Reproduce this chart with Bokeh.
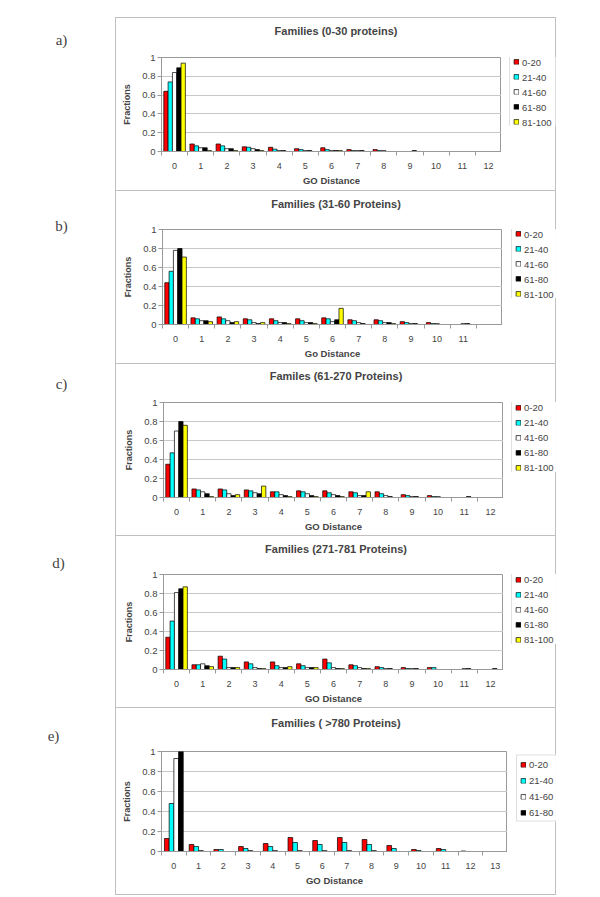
from bokeh.plotting import figure
from bokeh.layouts import column, row
from bokeh.models import (ColumnDataSource, Range1d, FixedTicker, Legend, LegendItem,
                          Label, NumeralTickFormatter, Spacer)
from bokeh.transform import dodge
from bokeh.embed import file_html
from bokeh.resources import INLINE

# ---------------- data ----------------
SERIES = ["0-20", "21-40", "41-60", "61-80", "81-100"]
COLORS = ["#ff0000", "#00ffff", "#ffffff", "#000000", "#ffff00"]
Y_TICKS = [0, 0.2, 0.4, 0.6, 0.8, 1]

a_dist = [0, 1, 2, 3, 4, 5, 6, 7, 8, 9, 10, 11, 12]
a_0_20   = [0.64, 0.08, 0.08, 0.05, 0.045, 0.03, 0.04, 0.02, 0.02, 0, 0, 0, 0]
a_21_40  = [0.74, 0.06, 0.06, 0.045, 0.025, 0.02, 0.02, 0.01, 0.01, 0, 0, 0, 0]
a_41_60  = [0.84, 0.04, 0.03, 0.03, 0.01, 0.01, 0.01, 0.01, 0.01, 0, 0, 0, 0]
a_61_80  = [0.89, 0.04, 0.03, 0.02, 0.01, 0.01, 0.01, 0.01, 0, 0.01, 0, 0, 0]
a_81_100 = [0.94, 0.01, 0.01, 0.01, 0, 0, 0.01, 0, 0, 0, 0, 0, 0]

b_dist = [0, 1, 2, 3, 4, 5, 6, 7, 8, 9, 10, 11]
b_0_20   = [0.44, 0.07, 0.08, 0.06, 0.06, 0.06, 0.07, 0.05, 0.05, 0.03, 0.02, 0]
b_21_40  = [0.56, 0.06, 0.06, 0.05, 0.04, 0.04, 0.06, 0.04, 0.04, 0.02, 0.01, 0]
b_41_60  = [0.78, 0.04, 0.04, 0.02, 0.02, 0.02, 0.03, 0.02, 0.02, 0.01, 0.01, 0.01]
b_61_80  = [0.80, 0.04, 0.02, 0.01, 0.02, 0.02, 0.05, 0.01, 0.02, 0.01, 0, 0.01]
b_81_100 = [0.71, 0.03, 0.03, 0.02, 0.01, 0.01, 0.17, 0, 0.01, 0, 0, 0]

c_dist = [0, 1, 2, 3, 4, 5, 6, 7, 8, 9, 10, 11, 12]
c_0_20   = [0.35, 0.09, 0.09, 0.08, 0.06, 0.07, 0.07, 0.06, 0.06, 0.03, 0.02, 0, 0]
c_21_40  = [0.47, 0.08, 0.08, 0.07, 0.06, 0.06, 0.05, 0.05, 0.04, 0.02, 0.01, 0, 0]
c_41_60  = [0.70, 0.06, 0.04, 0.05, 0.03, 0.04, 0.03, 0.02, 0.02, 0.01, 0.01, 0, 0]
c_61_80  = [0.80, 0.04, 0.02, 0.04, 0.02, 0.02, 0.02, 0.02, 0.01, 0.01, 0, 0.01, 0]
c_81_100 = [0.76, 0.01, 0.03, 0.12, 0.01, 0.01, 0.01, 0.06, 0, 0, 0, 0, 0]

d_dist = [0, 1, 2, 3, 4, 5, 6, 7, 8, 9, 10, 11, 12]
d_0_20   = [0.34, 0.05, 0.14, 0.08, 0.08, 0.06, 0.11, 0.05, 0.03, 0.02, 0.02, 0, 0]
d_21_40  = [0.51, 0.05, 0.11, 0.06, 0.04, 0.04, 0.07, 0.04, 0.02, 0.01, 0.02, 0, 0]
d_41_60  = [0.81, 0.06, 0.02, 0.02, 0.02, 0.02, 0.02, 0.02, 0.01, 0.01, 0, 0.01, 0]
d_61_80  = [0.85, 0.04, 0.02, 0.01, 0.02, 0.02, 0.01, 0.01, 0.01, 0.01, 0, 0.01, 0.01]
d_81_100 = [0.87, 0.03, 0.02, 0.01, 0.03, 0.02, 0.01, 0.01, 0, 0, 0, 0, 0]

e_dist = [0, 1, 2, 3, 4, 5, 6, 7, 8, 9, 10, 11, 12, 13]
e_0_20  = [0.13, 0.07, 0.02, 0.05, 0.08, 0.14, 0.11, 0.14, 0.12, 0.06, 0.02, 0.03, 0.005, 0]
e_21_40 = [0.48, 0.05, 0.02, 0.03, 0.05, 0.09, 0.07, 0.09, 0.07, 0.03, 0.01, 0.02, 0, 0]
e_41_60 = [0.93, 0.01, 0, 0.01, 0.01, 0.01, 0.01, 0.01, 0.01, 0, 0, 0, 0, 0]
e_61_80 = [1.00, 0, 0, 0, 0, 0, 0, 0, 0, 0, 0, 0, 0, 0]

PANELS = [
    dict(tag="a)", title="Families (0-30 proteins)", xlabel="GO Distance", dist=a_dist, slots=13,
         values=[a_0_20, a_21_40, a_41_60, a_61_80, a_81_100]),
    dict(tag="b)", title="Families (31-60 Proteins)", xlabel="Go Distance", dist=b_dist, slots=13,
         values=[b_0_20, b_21_40, b_41_60, b_61_80, b_81_100]),
    dict(tag="c)", title="Familes (61-270 Proteins)", xlabel="GO Distance", dist=c_dist, slots=13,
         values=[c_0_20, c_21_40, c_41_60, c_61_80, c_81_100]),
    dict(tag="d)", title="Families (271-781 Proteins)", xlabel="GO Distance", dist=d_dist, slots=13,
         values=[d_0_20, d_21_40, d_41_60, d_61_80, d_81_100]),
    dict(tag="e)", title="Families ( >780 Proteins)", xlabel="GO Distance", dist=e_dist, slots=14,
         values=[e_0_20, e_21_40, e_41_60, e_61_80]),
]

# ---------------- layout / style ----------------
FONT = "Liberation Sans"
BOX = "#c0c0c0"
GRAY = "#999999"
PANEL_W = 441
TAG_W = 115
TITLE_H = 26
# h: panel height; ty: title centre from panel top; ft/fb: frame top/bottom gaps;
# fl: frame left gap; lw: legend column width; lx: legend left offset; tx/tyy: tag position
LAYOUT = [
    dict(h=173, ty=13, ft=40, fb=39, fl=46, lw=55, lx=8, tx=61, tyy=22),
    dict(h=173, ty=13, ft=39, fb=39, fl=47, lw=54, lx=9, tx=61, tyy=35),
    dict(h=172, ty=12, ft=39, fb=38, fl=48, lw=53, lx=8, tx=61, tyy=20),
    dict(h=172, ty=13, ft=39, fb=38, fl=48, lw=53, lx=8, tx=58, tyy=27),
    dict(h=188, ty=15, ft=44, fb=44, fl=46, lw=49, lx=9, tx=53, tyy=28),
]


def bare_fig(w, h):
    f = figure(width=w, height=h, x_range=Range1d(0, w), y_range=Range1d(0, h),
               x_axis_location=None, y_axis_location=None, toolbar_location=None,
               output_backend="svg", min_border=0)
    try:
        f.title = None
    except Exception:
        f.title.visible = False
    f.grid.visible = False
    f.outline_line_color = None
    f.border_fill_color = None
    f.background_fill_color = None
    return f


def text_fig(w, h, text, x, y_top, font, size, style="normal"):
    f = bare_fig(w, h)
    f.add_layout(Label(x=x, y=h - y_top, text=text, text_font=font, text_font_size=size,
                       text_font_style=style, text_align="center", text_baseline="middle"))
    return f


def make_panel(spec, lay, last):
    n = spec["slots"]
    k = len(spec["values"])
    bar_w = 0.165 if k == 5 else 0.19
    plot_h = lay["h"] - TITLE_H
    plot_w = PANEL_W - lay["lw"]
    top_gap = lay["ft"] - TITLE_H
    frame_h = plot_h - top_gap - lay["fb"]
    p = figure(width=plot_w, height=plot_h, x_range=Range1d(-0.5, n - 0.5), y_range=Range1d(0, 1),
               toolbar_location=None, output_backend="svg",
               min_border_top=top_gap, min_border_bottom=lay["fb"],
               min_border_left=lay["fl"], min_border_right=0)
    try:
        p.title = None
    except Exception:
        p.title.visible = False

    lg = bare_fig(lay["lw"], int(round(2 * (top_gap + frame_h / 2))))
    items = []
    for i, (name, vals, col) in enumerate(zip(SERIES, spec["values"], COLORS)):
        off = (i - (k - 1) / 2) * bar_w
        src = ColumnDataSource(dict(dist=spec["dist"], top=vals,
                                    la=[1 if v > 0 else 0 for v in vals]))
        p.vbar(x=dodge("dist", off, range=p.x_range), top="top", width=bar_w, source=src,
               fill_color=col, line_color="black", line_width=0.7, line_alpha="la")
        # hidden twin in the legend column, only used to draw the legend swatch
        twin = lg.vbar(x="dist", top="top", width=bar_w, source=src, visible=False,
                       fill_color=col, line_color="black", line_width=0.7)
        items.append(LegendItem(label=name, renderers=[twin]))
    leg = Legend(items=items, location="left", margin=lay["lx"], padding=3,
                 spacing=4 if k == 5 else 5,
                 glyph_width=6, glyph_height=6, label_height=10, label_standoff=3,
                 label_text_font=FONT, label_text_font_size="9.5px",
                 border_line_color=BOX, border_line_width=1, background_fill_color="white")
    lg.add_layout(leg)

    p.outline_line_color = GRAY
    p.background_fill_color = "white"
    p.border_fill_color = None
    p.xgrid.visible = False
    p.ygrid.grid_line_color = "#c8c8c8"
    p.ygrid.ticker = FixedTicker(ticks=Y_TICKS)

    ya = p.yaxis[0]
    ya.ticker = FixedTicker(ticks=Y_TICKS)
    ya.formatter = NumeralTickFormatter(format="0.[0]")
    ya.axis_line_color = GRAY
    ya.major_tick_line_color = GRAY
    ya.major_tick_out = 4
    ya.major_tick_in = 0
    ya.minor_tick_out = 0
    ya.minor_tick_in = 0
    ya.major_label_standoff = 2
    ya.major_label_text_font = FONT
    ya.major_label_text_font_size = "9.5px"
    ya.axis_label = "Fractions"
    ya.axis_label_text_font = FONT
    ya.axis_label_text_font_size = "9px"
    ya.axis_label_text_font_style = "bold"
    ya.axis_label_standoff = 7

    xa = p.xaxis[0]
    xa.ticker = FixedTicker(ticks=spec["dist"], minor_ticks=[j - 0.5 for j in range(n + 1)])
    xa.axis_line_color = GRAY
    xa.major_tick_out = 0
    xa.major_tick_in = 0
    xa.minor_tick_out = 4
    xa.minor_tick_in = 0
    xa.minor_tick_line_color = GRAY
    xa.major_label_standoff = 7
    xa.major_label_text_font = FONT
    xa.major_label_text_font_size = "9px"
    xa.axis_label = spec["xlabel"]
    xa.axis_label_text_font = FONT
    xa.axis_label_text_font_size = "9.5px"
    xa.axis_label_text_font_style = "bold"
    xa.axis_label_standoff = 3

    title = text_fig(PANEL_W, TITLE_H, spec["title"], PANEL_W / 2, lay["ty"], FONT, "11px", "bold")
    box = column(title, row(p, lg))
    shadow = f"inset 1px 1px 0 {BOX}, inset -1px 0 0 {BOX}"
    if last:
        shadow += f", inset 0 -1px 0 {BOX}"
    box.styles = {"box-shadow": shadow}
    return box


rows = [Spacer(width=10, height=17)]
for idx, (spec, lay) in enumerate(zip(PANELS, LAYOUT)):
    tag = text_fig(TAG_W, lay["h"], spec["tag"], lay["tx"], lay["tyy"], "Liberation Serif", "15px")
    rows.append(row(tag, make_panel(spec, lay, idx == len(PANELS) - 1)))

p = column(*rows)
open("out.html", "w").write(file_html(p, INLINE))
